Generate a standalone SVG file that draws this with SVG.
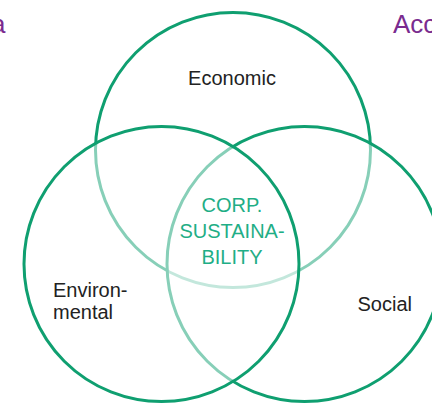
<svg xmlns="http://www.w3.org/2000/svg" width="432" height="404" viewBox="0 0 432 404">
<style>
.c{fill:#ffffff;fill-opacity:0.5;stroke:#0f9f70;stroke-width:3}
.t{font-family:"Liberation Sans",Arial,sans-serif;font-size:20px;fill:#222222}
.core{font-family:"Liberation Sans",Arial,sans-serif;font-size:20px;fill:#1fae86;text-anchor:middle}
.p{font-family:"Liberation Sans",Arial,sans-serif;font-size:26px;fill:#7a2b8f}
</style>
<rect width="432" height="404" fill="#ffffff"/>
<text class="p" x="-9" y="33">a</text>
<text class="p" x="393" y="33">Acc</text>
<g id="economic">
<circle class="c" cx="233" cy="150" r="137.5"/>
</g>
<g id="social">
<circle class="c" cx="304.5" cy="264" r="137.5"/>
</g>
<g id="environmental">
<circle class="c" cx="161.5" cy="264" r="137.5"/>
</g>
<g id="labels">
<text class="t" x="232" y="85" text-anchor="middle">Economic</text>
<text class="t" x="53" y="297">Environ-</text>
<text class="t" x="53" y="319">mental</text>
<text class="t" x="357.5" y="311">Social</text>
</g>
<g id="core">
<text class="core" x="232" y="212">CORP.</text>
<text class="core" x="232" y="238">SUSTAINA-</text>
<text class="core" x="232" y="264">BILITY</text>
</g>
</svg>
